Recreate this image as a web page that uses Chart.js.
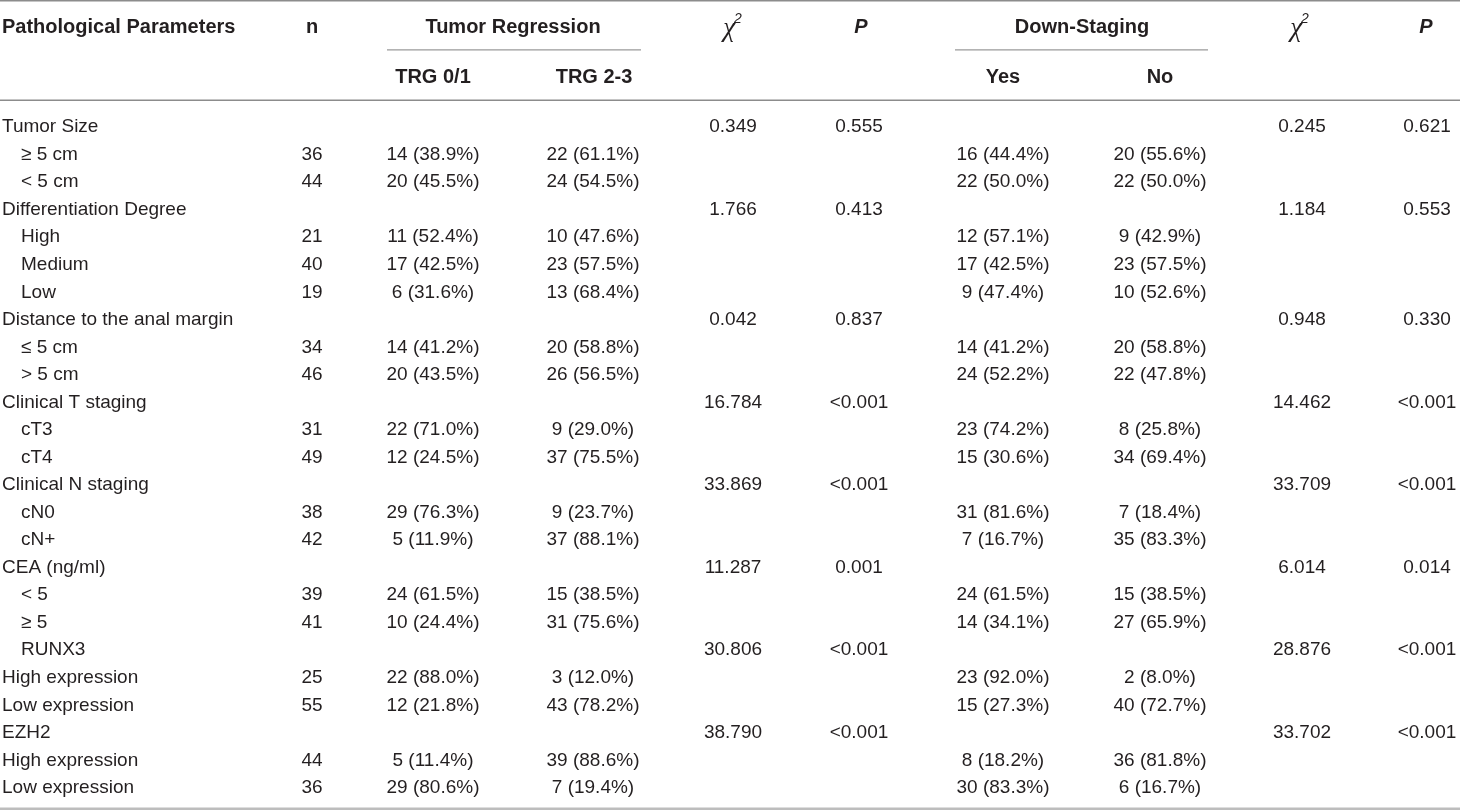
<!DOCTYPE html>
<html>
<head>
<meta charset="utf-8">
<script src="https://cdn.jsdelivr.net/npm/chart.js@4.4.1/dist/chart.umd.min.js"></script>
<style>
  html, body { margin: 0; padding: 0; background: #fff; }
  #wrap { width: 1460px; height: 810px; }
</style>
</head>
<body>
<div id="wrap"><canvas id="tableChart" width="1460" height="810"></canvas></div>
<script>
// row labels (first column), indent level per row
const rowLabels = [
  "Tumor Size", "≥ 5 cm", "< 5 cm",
  "Differentiation Degree", "High", "Medium", "Low",
  "Distance to the anal margin", "≤ 5 cm", "> 5 cm",
  "Clinical T staging", "cT3", "cT4",
  "Clinical N staging", "cN0", "cN+",
  "CEA (ng/ml)", "< 5", "≥ 5",
  "RUNX3", "High expression", "Low expression",
  "EZH2", "High expression", "Low expression"
];
const rowIndent = [0,1,1, 0,1,1,1, 0,1,1, 0,1,1, 0,1,1, 0,1,1, 1,0,0, 0,0,0];

// group rows carrying the test statistics
const groupRows = [0, 3, 7, 10, 13, 16, 19, 22];

const nValues   = [null,36,44, null,21,40,19, null,34,46, null,31,49, null,38,42, null,39,41, null,25,55, null,44,36];
const trg01     = [null,14,20, null,11,17,6,  null,14,20, null,22,12, null,29,5,  null,24,10, null,22,12, null,5,29];
const trg01Pct  = [null,38.9,45.5, null,52.4,42.5,31.6, null,41.2,43.5, null,71.0,24.5, null,76.3,11.9, null,61.5,24.4, null,88.0,21.8, null,11.4,80.6];
const trg23     = [null,22,24, null,10,23,13, null,20,26, null,9,37,  null,9,37,  null,15,31, null,3,43,  null,39,7];
const trg23Pct  = [null,61.1,54.5, null,47.6,57.5,68.4, null,58.8,56.5, null,29.0,75.5, null,23.7,88.1, null,38.5,75.6, null,12.0,78.2, null,88.6,19.4];
const chiTRG    = ["0.349", "1.766", "0.042", "16.784", "33.869", "11.287", "30.806", "38.790"];
const pTRG      = ["0.555", "0.413", "0.837", "<0.001", "<0.001", "0.001", "<0.001", "<0.001"];
const dsYes     = [null,16,22, null,12,17,9,  null,14,24, null,23,15, null,31,7,  null,24,14, null,23,15, null,8,30];
const dsYesPct  = [null,44.4,50.0, null,57.1,42.5,47.4, null,41.2,52.2, null,74.2,30.6, null,81.6,16.7, null,61.5,34.1, null,92.0,27.3, null,18.2,83.3];
const dsNo      = [null,20,22, null,9,23,10,  null,20,22, null,8,34,  null,7,35,  null,15,27, null,2,40,  null,36,6];
const dsNoPct   = [null,55.6,50.0, null,42.9,57.5,52.6, null,58.8,47.8, null,25.8,69.4, null,18.4,83.3, null,38.5,65.9, null,8.0,72.7, null,81.8,16.7];
const chiDS     = ["0.245", "1.184", "0.948", "14.462", "33.709", "6.014", "28.876", "33.702"];
const pDS       = ["0.621", "0.553", "0.330", "<0.001", "<0.001", "0.014", "<0.001", "<0.001"];

// header texts
const header1 = ["Pathological Parameters", "n", "Tumor Regression", "χ2", "P", "Down-Staging", "χ2", "P"];
const header2 = ["TRG 0/1", "TRG 2-3", "Yes", "No"];

// layout (pixel columns on a 0..1460 x scale, row units on y)
const colX = { label: 2, n: 312, trg01: 433, trg23: 593, chi1: 733, p1: 859, yes: 1003, no: 1160, chi2: 1302, p2: 1427 };
const head1X = [2, 312, 513, 733, 861, 1082, 1300, 1426];
const head1Align = ["left", "center", "center", "center", "center", "center", "center", "center"];
const head2X = [433, 594, 1003, 1160];
const head1Y = -3.6, head2Y = -1.82;
const INDENT = 19;
const TXT = "#231f20";
const BODY_FONT = "19px 'Liberation Sans', Arial, sans-serif";
const HEAD_FONT = "bold 20px 'Liberation Sans', Arial, sans-serif";

function cellText(c, p) {
  return c == null ? null : c + " (" + p.toFixed(1) + "%)";
}

function makeColumn(name, x, texts, align, font) {
  const data = [], cells = [];
  texts.forEach((t, i) => {
    if (t == null) return;
    data.push({ x: x, y: i });
    cells.push({ text: t, indent: 0, align: align || "center" });
  });
  return { label: name, data: data, cells: cells, font: font || BODY_FONT, pointRadius: 0 };
}

function groupColumn(values) {
  const arr = rowLabels.map(() => null);
  groupRows.forEach((r, k) => { arr[r] = values[k]; });
  return arr;
}

const labelCol = makeColumn("label", colX.label, rowLabels, "left");
labelCol.cells.forEach((c, i) => { c.indent = rowIndent[i]; });

const datasets = [
  labelCol,
  makeColumn("n", colX.n, nValues),
  makeColumn("TRG 0/1", colX.trg01, trg01.map((c, i) => cellText(c, trg01Pct[i]))),
  makeColumn("TRG 2-3", colX.trg23, trg23.map((c, i) => cellText(c, trg23Pct[i]))),
  makeColumn("chi TRG", colX.chi1, groupColumn(chiTRG)),
  makeColumn("P TRG", colX.p1, groupColumn(pTRG)),
  makeColumn("Yes", colX.yes, dsYes.map((c, i) => cellText(c, dsYesPct[i]))),
  makeColumn("No", colX.no, dsNo.map((c, i) => cellText(c, dsNoPct[i]))),
  makeColumn("chi DS", colX.chi2, groupColumn(chiDS)),
  makeColumn("P DS", colX.p2, groupColumn(pDS)),
  {
    label: "header1",
    data: header1.map((t, i) => ({ x: head1X[i], y: head1Y })),
    cells: header1.map((t, i) => ({ text: t, indent: 0, align: head1Align[i] })),
    font: HEAD_FONT, pointRadius: 0, header: true
  },
  {
    label: "header2",
    data: header2.map((t, i) => ({ x: head2X[i], y: head2Y })),
    cells: header2.map(t => ({ text: t, indent: 0, align: "center" })),
    font: HEAD_FONT, pointRadius: 0, header: true
  }
];

// rules drawn through the scales
const rules = [
  { y: -4.56, from: 0, to: 1460, color: "#8c8c8c", width: 2 },
  { y: -2.77, from: 387, to: 641, color: "#9a9a9a", width: 1.2 },
  { y: -2.77, from: 955, to: 1208, color: "#9a9a9a", width: 1.2 },
  { y: -0.94, from: 0, to: 1460, color: "#8c8c8c", width: 1.5 },
  { y: 24.8, from: 0, to: 1460, color: "#bdbdbd", width: 3 }
];

const tablePlugin = {
  id: "tableText",
  afterDatasetsDraw(chart) {
    const ctx = chart.ctx;
    const sx = chart.scales.x, sy = chart.scales.y;
    ctx.save();
    rules.forEach(r => {
      const py = sy.getPixelForValue(r.y);
      ctx.strokeStyle = r.color;
      ctx.lineWidth = r.width;
      ctx.beginPath();
      ctx.moveTo(sx.getPixelForValue(r.from), py);
      ctx.lineTo(sx.getPixelForValue(r.to), py);
      ctx.stroke();
    });
    ctx.fillStyle = TXT;
    ctx.textBaseline = "middle";
    const chiFont = "italic 27px 'Liberation Serif', 'Times New Roman', serif";
    const supFont = "italic 14px 'Liberation Sans', Arial, sans-serif";
    chart.data.datasets.forEach((ds, i) => {
      const meta = chart.getDatasetMeta(i);
      meta.data.forEach((pt, j) => {
        const cell = ds.cells[j];
        const t = cell.text;
        if (t === "χ2") {
          // italic chi with superscript 2
          ctx.font = chiFont;
          const w1 = ctx.measureText("χ").width;
          ctx.font = supFont;
          const w2 = ctx.measureText("2").width;
          const x0 = pt.x - (w1 + w2) / 2;
          ctx.textAlign = "left";
          ctx.font = chiFont;
          ctx.fillText("χ", x0, pt.y + 2);
          ctx.font = supFont;
          ctx.fillText("2", x0 + w1 - 1, pt.y - 8);
          return;
        }
        if (ds.header && t === "P") {
          ctx.font = "italic bold 20px 'Liberation Sans', Arial, sans-serif";
        } else {
          ctx.font = ds.font;
        }
        ctx.textAlign = cell.align;
        ctx.fillText(String(t), pt.x + cell.indent * INDENT, pt.y + 1);
      });
    });
    ctx.restore();
  }
};

new Chart(document.getElementById("tableChart"), {
  type: "scatter",
  data: { datasets: datasets },
  options: {
    responsive: false,
    animation: false,
    devicePixelRatio: 1,
    layout: { padding: 0 },
    elements: { point: { radius: 0, hoverRadius: 0 } },
    scales: {
      x: { type: "linear", min: 0, max: 1460, display: false },
      y: { type: "linear", min: -4.58, max: 24.84, reverse: true, display: false }
    },
    plugins: { legend: { display: false }, tooltip: { enabled: false } }
  },
  plugins: [tablePlugin]
});
</script>
</body>
</html>
